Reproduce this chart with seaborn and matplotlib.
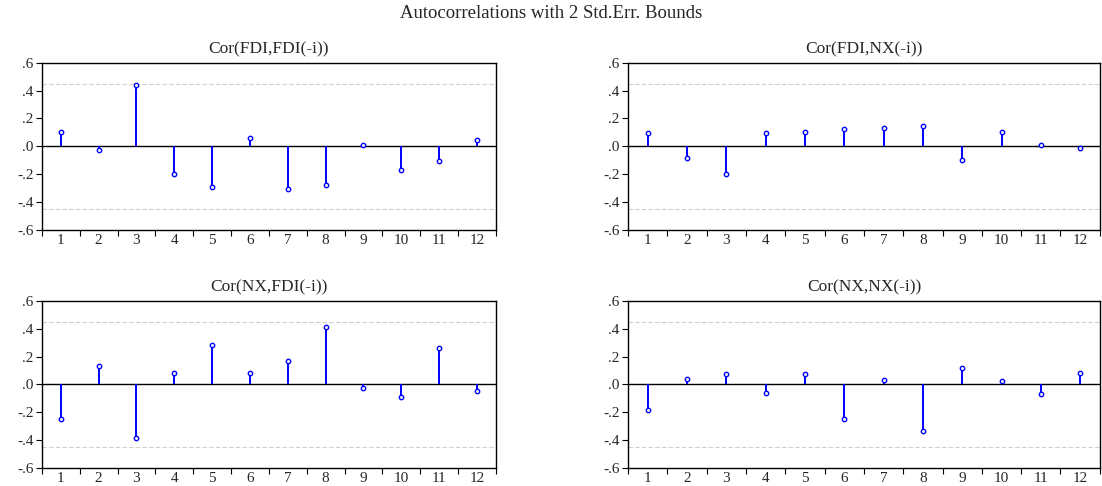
import seaborn as sns
import matplotlib.pyplot as plt
import pandas as pd

lags = list(range(1, 13))

fdi_fdi = [0.10, -0.024, 0.44, -0.20, -0.29, 0.062, -0.305, -0.276, 0.007, -0.168, -0.108, 0.043]
fdi_nx = [0.096, -0.084, -0.197, 0.094, 0.10, 0.122, 0.132, 0.149, -0.096, 0.103, 0.007, -0.01]
nx_fdi = [-0.249, 0.129, -0.383, 0.084, 0.282, 0.084, 0.170, 0.414, -0.029, -0.091, 0.261, -0.050]
nx_nx = [-0.182, 0.038, 0.077, -0.062, 0.072, -0.246, 0.031, -0.337, 0.115, 0.024, -0.069, 0.084]

titles = ['Cor(FDI,FDI(-i))', 'Cor(FDI,NX(-i))', 'Cor(NX,FDI(-i))', 'Cor(NX,NX(-i))']
series = [fdi_fdi, fdi_nx, nx_fdi, nx_nx]
bound = 0.45
yticks = [-0.6, -0.4, -0.2, 0.0, 0.2, 0.4, 0.6]
ytick_labels = ['-.6', '-.4', '-.2', '.0', '.2', '.4', '.6']

sns.set_style('ticks')
plt.rcParams['font.family'] = ['Liberation Serif', 'DejaVu Serif']

fig = plt.figure(figsize=(11.02, 4.86), dpi=100)
positions = [
    [0.038, 0.527, 0.412, 0.344],
    [0.570, 0.527, 0.428, 0.344],
    [0.038, 0.037, 0.412, 0.344],
    [0.570, 0.037, 0.428, 0.344],
]

for pos, title, vals in zip(positions, titles, series):
    ax = fig.add_axes(pos)
    df = pd.DataFrame({'lag': lags, 'cor': vals})
    ax.axhline(bound, color='#d0d0d0', lw=0.8, ls=(0, (4, 2)), zorder=1)
    ax.axhline(-bound, color='#d0d0d0', lw=0.8, ls=(0, (4, 2)), zorder=1)
    ax.axhline(0, color='black', lw=1.0, zorder=2)
    ax.vlines(df['lag'], 0, df['cor'], color='#0000ff', lw=1.4, zorder=3)
    sns.scatterplot(data=df, x='lag', y='cor', ax=ax, marker='o', s=10,
                    facecolor='white', edgecolor='#0000ff', linewidth=1.0, zorder=4)
    ax.set_xlim(0.5, 12.5)
    ax.set_ylim(-0.6, 0.6)
    ax.set_xticks(lags)
    ax.set_xticklabels([str(l) for l in lags], fontsize=11)
    ax.set_xticks([l + 0.5 for l in range(0, 13)], minor=True)
    ax.tick_params(axis='x', which='major', length=0, pad=3)
    ax.tick_params(axis='x', which='minor', length=4, width=0.8, color='black')
    ax.set_yticks(yticks)
    ax.set_yticklabels(ytick_labels, fontsize=11)
    ax.tick_params(axis='y', length=4, width=0.8, pad=2, color='black')
    ax.set_xlabel('')
    ax.set_ylabel('')
    ax.set_title(title, fontsize=12.5, pad=7)
    for sp in ax.spines.values():
        sp.set_visible(True)
        sp.set_linewidth(1.0)
        sp.set_color('black')

fig.suptitle('Autocorrelations with 2 Std.Err. Bounds', fontsize=13.5, y=0.99)
fig.savefig('out.png', dpi=100)
